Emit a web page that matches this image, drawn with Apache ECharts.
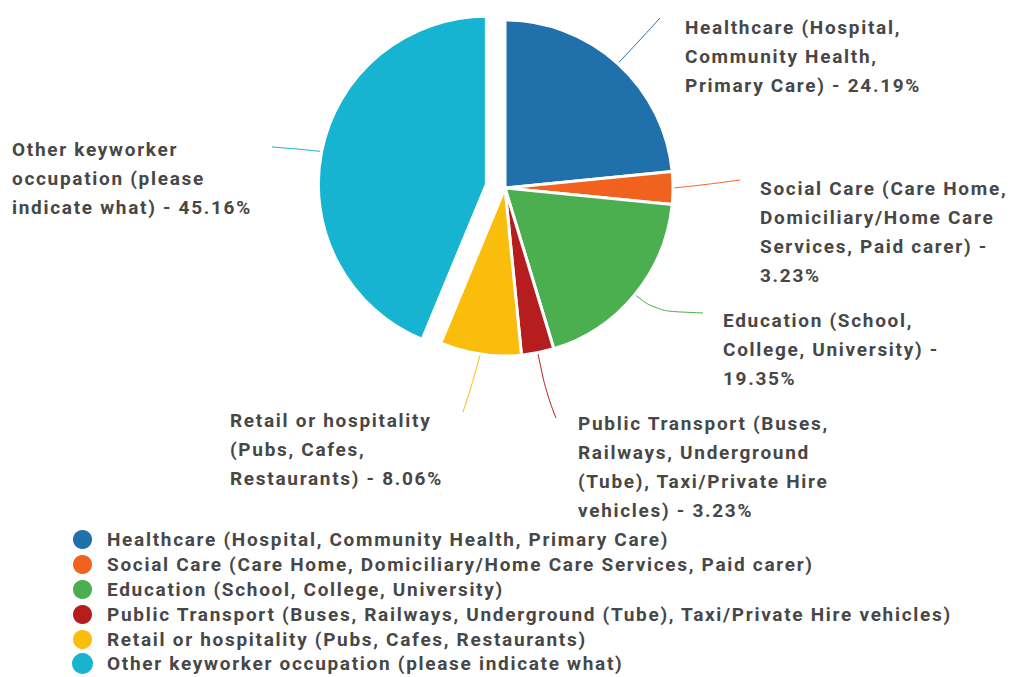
<!DOCTYPE html>
<html>
<head>
<meta charset="utf-8">
<title>Keyworker occupation</title>
<script src="https://cdn.jsdelivr.net/npm/echarts@6/dist/echarts.min.js"></script>
<style>
  html, body { margin: 0; padding: 0; background: #ffffff; }
  #chart { width: 1012px; height: 677px; }
  #chart text { letter-spacing: 1.7px; }
</style>
</head>
<body>
<div id="chart"></div>
<script>
// Occupation categories (legend names)
const categories = [
  'Healthcare (Hospital, Community Health, Primary Care)',
  'Social Care (Care Home, Domiciliary/Home Care Services, Paid carer)',
  'Education (School, College, University)',
  'Public Transport (Buses, Railways, Underground (Tube), Taxi/Private Hire vehicles)',
  'Retail or hospitality (Pubs, Cafes, Restaurants)',
  'Other keyworker occupation (please indicate what)'
];
// Number of responses per occupation
const counts = [15, 2, 12, 2, 5, 28];
// Respondents answering the question (percent base)
const respondents = 62;
// Wrapped name text used for the slice labels
const labelNames = [
  'Healthcare (Hospital,\nCommunity Health,\nPrimary Care)',
  'Social Care (Care Home,\nDomiciliary/Home Care\nServices, Paid carer) -\n',
  'Education (School,\nCollege, University) -\n',
  'Public Transport (Buses,\nRailways, Underground\n(Tube), Taxi/Private Hire\nvehicles)',
  'Retail or hospitality\n(Pubs, Cafes,\nRestaurants)',
  'Other keyworker\noccupation (please\nindicate what)'
];
const colors = ['#1f70ab', '#f2621f', '#4baf4f', '#b51d1f', '#fbbd0b', '#17b4d1'];
// Slice pulled out of the pie
const explodedIndex = 5;

// Pie geometry
const pieCenter = [505, 188];
const pieRadius = 168;
const explodeDist = 19;

// Label block placement and label-line bend/end points
const labelPlacement = [
  { x: 685, y: 13,  mid: [640, 40],  end: [660, 18] },
  { x: 760, y: 174, mid: [703, 185], end: [740, 180] },
  { x: 723, y: 306, mid: [656, 311], end: [703, 313] },
  { x: 578, y: 409, mid: [546, 392], end: [556, 418] },
  { x: 230, y: 406, mid: [471, 388], end: [463, 412] },
  { x: 12,  y: 135, mid: [298, 149], end: [272, 147] }
];

// Direction of the exploded slice: its mid angle, clockwise from 12 o'clock
const total = counts.reduce((a, b) => a + b, 0);
const before = counts.slice(0, explodedIndex).reduce((a, b) => a + b, 0);
const midAngle = (before + counts[explodedIndex] / 2) / total * 2 * Math.PI;
const explodedCenter = [
  pieCenter[0] + Math.sin(midAngle) * explodeDist,
  pieCenter[1] - Math.cos(midAngle) * explodeDist
];

const fontBase = {
  fontFamily: 'Roboto',
  fontWeight: 'bold',
  fontSize: 19,
  color: '#474747'
};

function buildData(visibleTest) {
  return categories.map((name, i) => {
    const visible = visibleTest(i);
    return {
      name: name,
      value: counts[i],
      itemStyle: visible
        ? { color: colors[i] }
        : { color: 'rgba(0,0,0,0)', borderColor: 'rgba(0,0,0,0)', borderWidth: 0 },
      label: { show: visible },
      labelLine: { show: visible }
    };
  });
}

function pieSeries(center, data) {
  return {
    type: 'pie',
    center: center,
    radius: pieRadius,
    startAngle: 90,
    clockwise: true,
    silent: true,
    avoidLabelOverlap: false,
    itemStyle: { borderColor: '#ffffff', borderWidth: 3 },
    emphasis: { disabled: true },
    label: Object.assign({
      show: true,
      position: 'outside',
      lineHeight: 29,
      align: 'left',
      formatter: (p) => {
        const pct = (p.value / respondents * 100).toFixed(2) + '%';
        const base = labelNames[p.dataIndex];
        return base.endsWith('\n') ? base + pct : base + ' - ' + pct;
      }
    }, fontBase),
    labelLine: {
      show: true,
      smooth: 0.4,
      length: 20,
      length2: 20,
      lineStyle: { width: 1 }
    },
    labelLayout: (params) => {
      const pl = labelPlacement[params.dataIndex];
      const start = params.labelLinePoints ? params.labelLinePoints[0] : pl.mid;
      return {
        x: pl.x,
        y: pl.y,
        align: 'left',
        verticalAlign: 'top',
        labelLinePoints: [start, pl.mid, pl.end]
      };
    },
    data: data
  };
}

const chart = echarts.init(document.getElementById('chart'), null, { renderer: 'svg' });

chart.setOption({
  animation: false,
  backgroundColor: '#ffffff',
  textStyle: { fontFamily: 'Roboto' },
  legend: {
    orient: 'vertical',
    left: 71,
    top: 528,
    height: 170,
    padding: 0,
    icon: 'circle',
    itemWidth: 21,
    itemHeight: 21,
    itemGap: 2,
    selectedMode: false,
    textStyle: Object.assign({ lineHeight: 18, padding: [0, 0, 0, 9] }, fontBase),
    data: categories.map((name, i) => ({ name: name, itemStyle: { color: colors[i] } }))
  },
  series: [
    pieSeries(pieCenter, buildData((i) => i !== explodedIndex)),
    pieSeries(explodedCenter, buildData((i) => i === explodedIndex))
  ]
});
</script>
</body>
</html>
